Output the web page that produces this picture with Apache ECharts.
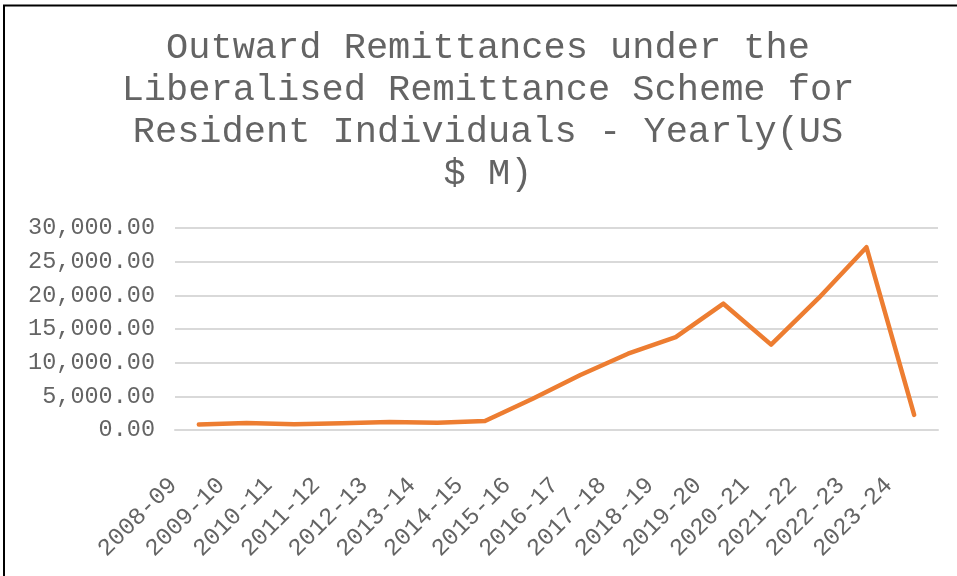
<!DOCTYPE html>
<html>
<head>
<meta charset="utf-8">
<script src="https://cdn.jsdelivr.net/npm/echarts@6/dist/echarts.min.js"></script>
<style>
  html, body { margin: 0; padding: 0; background: #fff; }
  #chart { width: 957px; height: 576px; }
</style>
</head>
<body>
<div id="chart"></div>
<script>
// Financial years
const years = ['2008-09', '2009-10', '2010-11', '2011-12', '2012-13', '2013-14', '2014-15', '2015-16',
  '2016-17', '2017-18', '2018-19', '2019-20', '2020-21', '2021-22', '2022-23', '2023-24'];

// Outward remittances, US$ million
const remittances = [810, 1036, 860, 998, 1206, 1094, 1326, 4643,
  8171, 11334, 13788, 18761, 12684, 19611, 27141, 2250];

// Y axis ticks
const yMin = 0;
const yMax = 30000;
const yStep = 5000;

const titleLines = [
  'Outward Remittances under the',
  'Liberalised Remittance Scheme for',
  'Resident Individuals - Yearly(US',
  '$ M)'
];

const mono = '"Liberation Mono", "DejaVu Sans Mono", monospace';
const textGrey = '#646464';

function fmt(v) {
  return v.toLocaleString('en-US', { minimumFractionDigits: 2, maximumFractionDigits: 2 });
}

const chart = echarts.init(document.getElementById('chart'), null, { renderer: 'canvas' });

chart.setOption({
  animation: false,
  backgroundColor: '#ffffff',
  title: {
    text: titleLines.join('\n'),
    left: 488,
    top: 27,
    textAlign: 'center',
    padding: 0,
    textStyle: {
      fontFamily: mono,
      fontSize: 37,
      fontWeight: 'normal',
      color: textGrey,
      lineHeight: 42
    }
  },
  grid: {
    left: 175,
    right: 19,
    top: 228,
    bottom: 146,
    containLabel: false
  },
  xAxis: {
    type: 'category',
    data: years,
    boundaryGap: true,
    axisLine: { show: true, lineStyle: { color: '#d9d9d9', width: 2 } },
    axisTick: { show: false },
    axisLabel: {
      interval: 0,
      rotate: 45,
      margin: 26,
      padding: [0, 36, 0, 0],
      fontFamily: mono,
      fontSize: 24,
      color: textGrey
    },
    splitLine: { show: false }
  },
  yAxis: {
    type: 'value',
    min: yMin,
    max: yMax,
    interval: yStep,
    axisLine: { show: false },
    axisTick: { show: false },
    axisLabel: {
      margin: 20,
      fontFamily: mono,
      fontSize: 23.5,
      color: textGrey,
      formatter: fmt
    },
    splitLine: { show: true, lineStyle: { color: '#d9d9d9', width: 2 } }
  },
  series: [{
    type: 'line',
    data: remittances,
    showSymbol: false,
    symbol: 'none',
    lineStyle: { color: '#ED7D31', width: 4.5, cap: 'round', join: 'round' },
    itemStyle: { color: '#ED7D31' }
  }],
  graphic: [
    {
      type: 'polyline',
      shape: { points: [[4, 1000], [4, 5.5], [1000, 5.5]] },
      style: { stroke: '#000', lineWidth: 2, fill: null },
      silent: true
    }
  ]
});
</script>
</body>
</html>
